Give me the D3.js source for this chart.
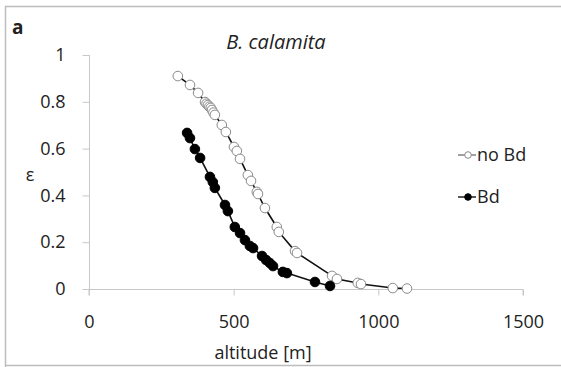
<!DOCTYPE html>
<html>
<head>
<meta charset="utf-8">
<script src="https://cdn.jsdelivr.net/npm/d3@7"></script>
<style>
  body { margin: 0; background: #fff; }
  text { font-family: "Open Sans", sans-serif; fill: #222; }
</style>
</head>
<body>
<div id="root"></div>
<script>
// altitude [m] and epsilon
const noBdAltitude = [307, 349, 377, 401, 406, 411, 416, 421, 425, 430, 435, 459, 473, 501, 511, 522,
  549, 560, 580, 584, 608, 649, 656, 712, 719, 840, 857, 929, 940, 1050, 1099];
const noBdEps = [0.910, 0.872, 0.838, 0.799, 0.792, 0.786, 0.779, 0.774, 0.765, 0.754, 0.744, 0.701, 0.671, 0.607, 0.590, 0.556,
  0.487, 0.462, 0.415, 0.406, 0.346, 0.265, 0.244, 0.162, 0.154, 0.056, 0.043, 0.026, 0.021, 0.004, 0.002];

const bdAltitude = [339, 349, 366, 384, 418, 428, 435, 470, 480, 504, 522, 539, 556, 567, 598, 612, 625, 636, 670, 684, 781, 833];
const bdEps = [0.667, 0.645, 0.598, 0.560, 0.479, 0.457, 0.432, 0.359, 0.333, 0.265, 0.239, 0.209, 0.184, 0.175, 0.141, 0.124,
  0.111, 0.098, 0.073, 0.068, 0.030, 0.013];

const xTicks = [0, 500, 1000, 1500];
const yTicks = [0, 0.2, 0.4, 0.6, 0.8, 1];

const width = 561;
const height = 367;
const plot = { left: 89, right: 523, top: 55, bottom: 289 };

const svg = d3.select('#root')
  .append('svg')
  .attr('width', width)
  .attr('height', height);

// outer frame
svg.append('path')
  .attr('d', `M5.5,${height} V6.5 H${width} M5.5,365.5 H${width}`)
  .attr('fill', 'none')
  .attr('stroke', '#bdbdbd')
  .attr('stroke-width', 1.5);

const x = d3.scaleLinear().domain([0, 1500]).range([plot.left, plot.right]);
const y = d3.scaleLinear().domain([0, 1]).range([plot.bottom, plot.top]);

const xAxis = svg.append('g')
  .attr('transform', `translate(0, ${plot.bottom + 0.5})`)
  .call(d3.axisBottom(x).tickValues(xTicks).tickFormat(d3.format('d')).tickSize(6).tickPadding(20));
const yAxis = svg.append('g')
  .attr('transform', `translate(${plot.left + 0.5}, 0)`)
  .call(d3.axisLeft(y).tickValues(yTicks).tickFormat(d => d === 0 || d === 1 ? d : d.toFixed(1)).tickSize(7).tickPadding(17));

[xAxis, yAxis].forEach(g => {
  g.select('.domain').attr('stroke', '#c8c8c8');
  g.selectAll('.tick line').attr('stroke', '#c8c8c8');
  g.selectAll('.tick text')
    .attr('font-family', '"Open Sans", sans-serif')
    .attr('font-size', 18)
    .attr('fill', '#1a1a1a');
});
// only short end marks on the x axis line, none on the y axis line
xAxis.select('.domain').attr('d', `M${x(0)},6V0H${x(1500)}V6`);
yAxis.select('.domain').attr('d', `M0,${y(1)}H0V${y(0)}`);

// series
const series = [
  { name: 'no Bd', xs: noBdAltitude, ys: noBdEps, fill: '#fff', stroke: '#8a8a8a' },
  { name: 'Bd', xs: bdAltitude, ys: bdEps, fill: '#000', stroke: '#000' },
];

const line = d3.line().x(d => x(d[0])).y(d => y(d[1]));

series.forEach(s => {
  const pts = s.xs.map((v, i) => [v, s.ys[i]]);
  svg.append('path')
    .datum(pts)
    .attr('d', line)
    .attr('fill', 'none')
    .attr('stroke', '#111')
    .attr('stroke-width', 1.6);
  svg.append('g')
    .selectAll('circle')
    .data(pts)
    .join('circle')
    .attr('cx', d => x(d[0]))
    .attr('cy', d => y(d[1]))
    .attr('r', 4.8)
    .attr('fill', s.fill)
    .attr('stroke', s.stroke)
    .attr('stroke-width', 1);
});

// legend
const legend = svg.append('g').attr('transform', 'translate(458, 0)');
[155, 197].forEach((ly, i) => {
  const s = series[i];
  legend.append('line')
    .attr('x1', 0).attr('x2', 18)
    .attr('y1', ly).attr('y2', ly)
    .attr('stroke', i === 0 ? '#777' : '#111')
    .attr('stroke-width', 1.4);
  legend.append('circle')
    .attr('cx', 10).attr('cy', ly)
    .attr('r', 3.3)
    .attr('fill', s.fill)
    .attr('stroke', s.stroke);
  legend.append('text')
    .attr('x', 19).attr('y', ly)
    .attr('dy', '0.35em')
    .attr('font-size', 18)
    .text(s.name);
});

// labels
svg.append('text')
  .attr('x', 12).attr('y', 34)
  .attr('font-size', 19)
  .attr('font-weight', 'bold')
  .attr('fill', '#000')
  .text('a');

svg.append('text')
  .attr('x', 276).attr('y', 49)
  .attr('text-anchor', 'middle')
  .attr('font-size', 20)
  .attr('font-style', 'italic')
  .text('B. calamita');

svg.append('text')
  .attr('x', 30).attr('y', 181)
  .attr('text-anchor', 'middle')
  .attr('font-size', 18)
  .text('ε');

svg.append('text')
  .attr('x', 263).attr('y', 359)
  .attr('text-anchor', 'middle')
  .attr('font-size', 18)
  .text('altitude [m]');
</script>
</body>
</html>
